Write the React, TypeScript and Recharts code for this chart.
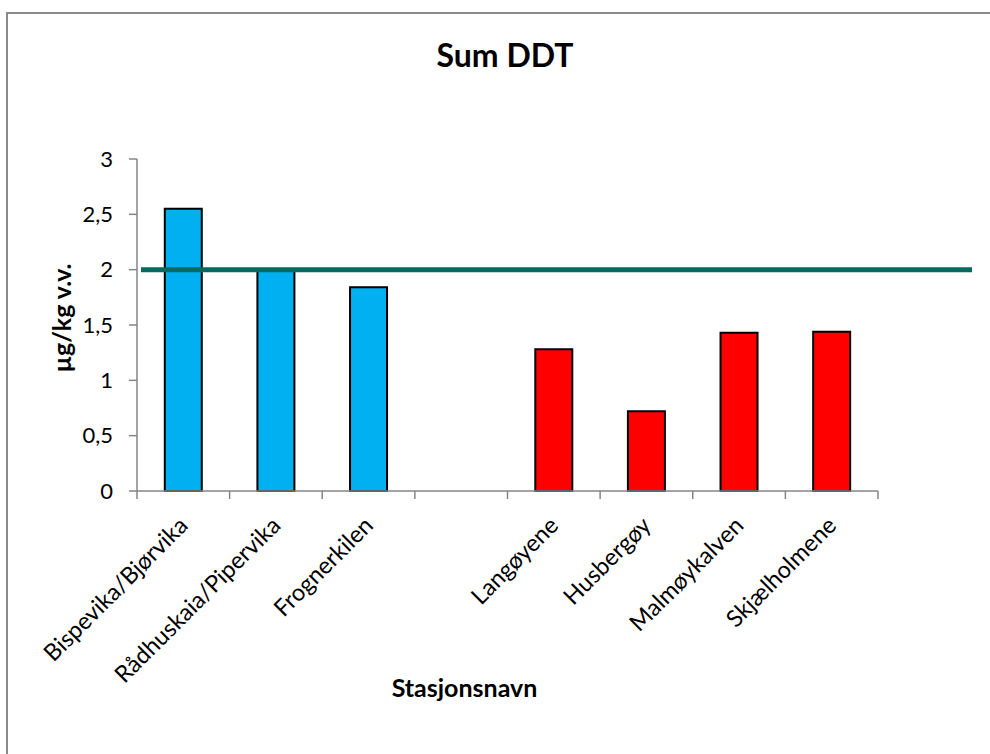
import React from "react";
import { Bar, BarChart, Cell, Label, ReferenceLine, XAxis, YAxis } from "recharts";

// stations (empty slot separates inner and outer fjord)
const stations = [
  "Bispevika/Bjørvika",
  "Rådhuskaia/Pipervika",
  "Frognerkilen",
  "",
  "Langøyene",
  "Husbergøy",
  "Malmøykalven",
  "Skjælholmene",
];
const sumDDT = [2.55, 2.0, 1.84, null, 1.28, 0.72, 1.43, 1.44];
const area = ["indre", "indre", "indre", null, "ytre", "ytre", "ytre", "ytre"];
const yTicks = [0, 0.5, 1, 1.5, 2, 2.5, 3];
const limit = 2;

const FONT = "Lato, 'Open Sans', sans-serif";
const AXIS_GREY = "#868686";
const areaColor: Record<string, string> = { indre: "#00B0F0", ytre: "#FF0000" };

const data = stations.map((name, i) => ({ name, value: sumDDT[i], area: area[i] }));

function StationTick(props: any) {
  const { x, y, payload, index } = props;
  const half = payload?.offset ?? 46.35;
  const tx = x + 6;
  const ty = y + 36;
  return (
    <g>
      <line x1={x - half} y1={y} x2={x - half} y2={y + 8} stroke={AXIS_GREY} strokeWidth={1.5} />
      {index === stations.length - 1 && (
        <line x1={x + half} y1={y} x2={x + half} y2={y + 8} stroke={AXIS_GREY} strokeWidth={1.5} />
      )}
      <text
        x={tx}
        y={ty}
        transform={`rotate(-45, ${tx}, ${ty})`}
        textAnchor="end"
        fontFamily={FONT}
        fontSize={23.5}
        fill="#000"
      >
        {payload.value}
      </text>
    </g>
  );
}

function LimitLine(props: any) {
  const { x1, y1, x2, y2 } = props;
  return <line x1={x1 + 4} y1={y1} x2={x2 + 94} y2={y2} stroke="#07695F" strokeWidth={5} />;
}

export default function App() {
  return (
    <div
      style={{
        position: "fixed",
        left: 0,
        top: 0,
        width: 990,
        height: 754,
        overflow: "hidden",
        background: "#fff",
      }}
    >
      <div
        style={{
          position: "absolute",
          left: 6,
          top: 12,
          width: 1100,
          height: 900,
          border: "2px solid #8a8a8a",
        }}
      />
      <div style={{ position: "absolute", left: 0, top: 0 }}>
        <BarChart
          width={990}
          height={754}
          data={data}
          margin={{ top: 159, right: 112, bottom: 0, left: 0 }}
          barCategoryGap="30%"
        >
          <XAxis
            dataKey="name"
            interval={0}
            height={263}
            tickLine={false}
            tickSize={0}
            tickMargin={0}
            axisLine={{ stroke: AXIS_GREY, strokeWidth: 1.5 }}
            tick={<StationTick />}
          >
            <Label
              content={(p: any) => {
                const vb = p.viewBox;
                return (
                  <text
                    x={vb.x + vb.width / 2 - 43}
                    y={vb.y + 206}
                    textAnchor="middle"
                    fontFamily={FONT}
                    fontWeight="bold"
                    fontSize={25}
                    fill="#000"
                  >
                    Stasjonsnavn
                  </text>
                );
              }}
            />
          </XAxis>
          <YAxis
            width={137}
            domain={[0, 3]}
            ticks={yTicks}
            interval={0}
            tickSize={8}
            tickMargin={16}
            tickLine={{ stroke: AXIS_GREY, strokeWidth: 1.5 }}
            axisLine={{ stroke: AXIS_GREY, strokeWidth: 1.5 }}
            tick={{ fontFamily: FONT, fontSize: 22, fill: "#000" }}
            tickFormatter={(v: number) => String(v).replace(".", ",")}
          >
            <Label
              content={(p: any) => {
                const vb = p.viewBox;
                const cx = vb.x + 61;
                const cy = vb.y + vb.height / 2 - 7;
                return (
                  <text
                    x={cx}
                    y={cy}
                    transform={`rotate(-90, ${cx}, ${cy})`}
                    textAnchor="middle"
                    dominantBaseline="central"
                    fontFamily={FONT}
                    fontWeight="bold"
                    fontSize={25}
                    fill="#000"
                  >
                    µg/kg v.v.
                  </text>
                );
              }}
            />
          </YAxis>
          <Bar dataKey="value" stroke="#000" strokeWidth={2} isAnimationActive={false}>
            {data.map((d, i) => (
              <Cell key={i} fill={d.area ? areaColor[d.area] : "none"} />
            ))}
          </Bar>
          <ReferenceLine y={limit} shape={<LimitLine />} />
        </BarChart>
      </div>
      <svg width={990} height={120} style={{ position: "absolute", left: 0, top: 0 }}>
        <text x={505} y={67} textAnchor="middle" fontFamily={FONT} fontWeight="bold" fontSize={32} fill="#000">
          Sum DDT
        </text>
      </svg>
    </div>
  );
}
